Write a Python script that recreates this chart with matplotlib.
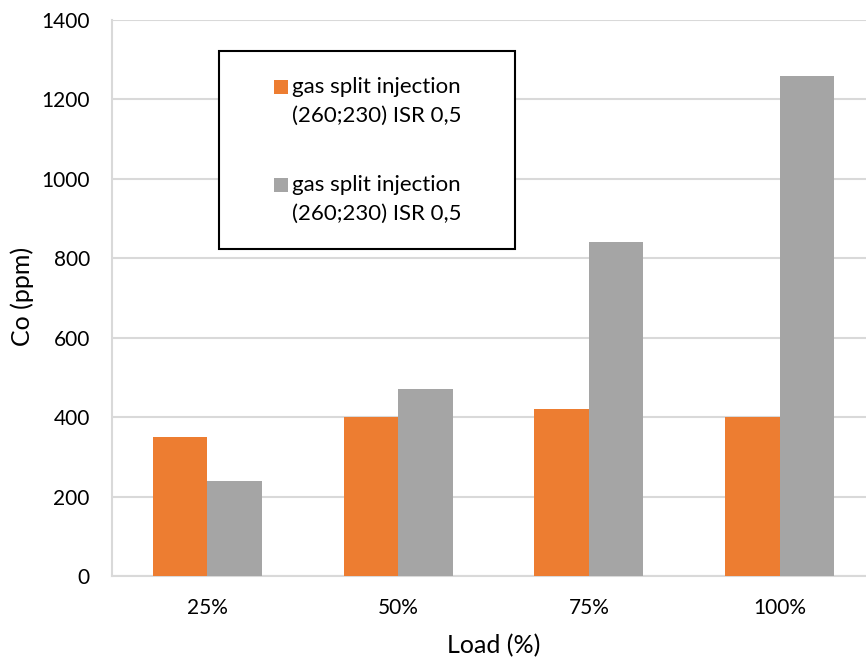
import matplotlib
matplotlib.use("Agg")
import matplotlib.pyplot as plt
from matplotlib.patches import Rectangle
import numpy as np

plt.rcParams['font.family'] = ['Lato', 'DejaVu Sans']

categories = ["25%", "50%", "75%", "100%"]
series_names = ["gas split injection\n(260;230) ISR 0,5",
                "gas split injection\n(260;230) ISR 0,5"]
series_orange = [350, 400, 420, 400]
series_gray = [240, 470, 840, 1260]
y_ticks = [0, 200, 400, 600, 800, 1000, 1200, 1400]

colors = ["#ED7D31", "#A5A5A5"]
grid_color = "#D9D9D9"

W, H = 866, 658
fig = plt.figure(figsize=(W / 100, H / 100), dpi=100)
ax = fig.add_axes([112 / W, (H - 576) / H, (875 - 112) / W, 556 / H])

x = np.arange(len(categories))
bw = 0.286
ax.bar(x - bw / 2, series_orange, width=bw, color=colors[0], zorder=3)
ax.bar(x + bw / 2, series_gray, width=bw, color=colors[1], zorder=3)

ax.set_xlim(-0.5, len(categories) - 0.5)
ax.set_ylim(0, 1400)
ax.set_yticks(y_ticks)
ax.set_xticks(x)
ax.set_xticklabels(categories)
ax.tick_params(axis='both', length=0, labelsize=15, colors="#000000")
ax.tick_params(axis='y', pad=16)
ax.tick_params(axis='x', pad=16)

ax.grid(axis='y', color=grid_color, linewidth=1.5, zorder=0)
for side in ("top", "right"):
    ax.spines[side].set_visible(False)
for side in ("left", "bottom"):
    ax.spines[side].set_color(grid_color)
    ax.spines[side].set_linewidth(1.5)

fig.text(22 / W, 1 - 296 / H, "Co (ppm)", rotation=90, ha='center', va='center', fontsize=18)
fig.text(494 / W, 1 - 646 / H, "Load (%)", ha='center', va='center', fontsize=18)

# Boxed legend with the swatch aligned to the first line of each entry
box = Rectangle((219 / W, 1 - 249 / H), (515 - 219) / W, (249 - 51) / H,
                transform=fig.transFigure, facecolor='white', edgecolor='black',
                linewidth=1.5, zorder=5)
fig.add_artist(box)
entry_tops = [87, 185]
for name, col, yc in zip(series_names, colors, entry_tops):
    sq = Rectangle((274 / W, 1 - (yc + 7) / H), 14 / W, 14 / H,
                   transform=fig.transFigure, facecolor=col, edgecolor='none', zorder=6)
    fig.add_artist(sq)
    lines = name.split("\n")
    for i, ln in enumerate(lines):
        fig.text(292 / W, 1 - (yc + i * 29) / H, ln, ha='left', va='center',
                 fontsize=16, zorder=7)

fig.savefig("out.png", dpi=100)
